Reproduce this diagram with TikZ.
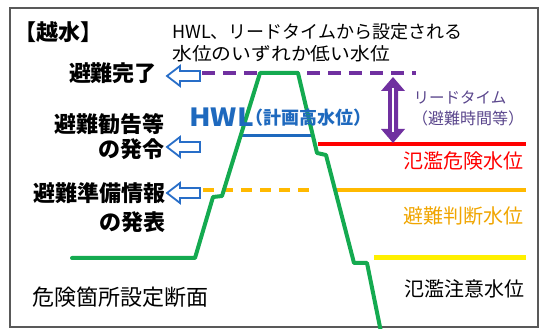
\documentclass[tikz,border=0pt]{standalone}
\usepackage{fontspec}
\setmainfont{Noto Sans CJK JP}
\newcommand{\fsz}[1]{\fontsize{#1}{#1}\selectfont}
\definecolor{dike}{RGB}{20,170,80}
\definecolor{lpurple}{RGB}{112,48,160}
\definecolor{tpurple}{RGB}{90,70,140}
\definecolor{hwlblue}{RGB}{30,105,190}
\definecolor{arrblue}{RGB}{40,110,200}
\definecolor{lorange}{RGB}{255,185,0}
\definecolor{torange}{RGB}{240,165,0}
\definecolor{lyellow}{RGB}{255,240,0}
\definecolor{lred}{RGB}{255,0,0}
\begin{document}
\begin{tikzpicture}[x=1pt,y=-1pt,
  txt/.style={inner sep=0pt,anchor=center},
  lbl/.style={txt,font=\fsz{22}\bfseries},
  lvl/.style={txt,font=\fsz{20}},
  hollowarrow/.style={draw=arrblue,fill=white,line width=1.8pt,line join=miter},
  dikeline/.style={draw=dike,line width=4pt,line join=round,line cap=round}]
\useasboundingbox (0,0) rectangle (542,329);
% frame
\draw[black!65,line width=1.5pt] (10,8) rectangle (538,327);
% level lines
\draw[lpurple,line width=4pt,dash pattern=on 13pt off 8pt] (202,73) -- (416,73);
\draw[hwlblue,line width=3pt] (242,136) -- (313,136);
\draw[lred,line width=4pt] (318,144) -- (526,144);
\draw[lorange,line width=4pt,dash pattern=on 11pt off 8pt] (203,190) -- (313,190);
\draw[lorange,line width=4pt] (337,190) -- (526,190);
\draw[lyellow,line width=5pt] (374,258) -- (526,258);
% dike cross-section
\draw[dikeline] (72,258) -- (195,258) -- (213,197) -- (222,196) -- (260,73) -- (298,73)
  -- (317,153) -- (326,155) -- (354,263) -- (367,263) -- (381,332);
% hollow arrows
\draw[hollowarrow] (167,76) -- ++(13,-10) -- ++(0,5) -- ++(20,0) -- ++(0,10) -- ++(-20,0) -- ++(0,5) -- cycle;
\draw[hollowarrow] (167,147) -- ++(13,-10) -- ++(0,5) -- ++(20,0) -- ++(0,10) -- ++(-20,0) -- ++(0,5) -- cycle;
\draw[hollowarrow] (167,193) -- ++(13,-10) -- ++(0,5) -- ++(20,0) -- ++(0,10) -- ++(-20,0) -- ++(0,5) -- cycle;
% lead-time double arrow
\fill[lpurple] (393,77) -- (381,91) -- (388,91) -- (388,129) -- (381,129) -- (393,143)
  -- (405,129) -- (398,129) -- (398,91) -- (405,91) -- cycle;
\draw[white,line width=2.5pt] (393,88) -- (393,132);
% texts
\node[txt,font=\fsz{22}\bfseries] (title) at (59,32) {【越水】};
\node[txt,anchor=west,font=\fsz{18}] (note1) at (172,32) {HWL、リードタイムから設定される};
\node[txt,anchor=west,font=\fsz{18}] (note2) at (172,54) {\scalebox{1.1}[1]{水位のいずれか低い水位}};
\node[lbl] (kanryo) at (113,73) {避難完了};
\node[lbl,anchor=east] (kankoku) at (165,124) {避難勧告等};
\node[lbl,anchor=east] (hatsurei) at (165,149) {の発令};
\node[lbl,anchor=east] (junbi) at (166,193) {避難準備情報};
\node[lbl,anchor=east] (happyo) at (166,222) {の発表};
\node[txt,font=\fsz{22}] (danmen) at (121,297) {危険箇所設定断面};
\node[txt,anchor=west,text=hwlblue,font=\fsz{25}\bfseries] (hwl) at (189,117) {\scalebox{1.12}[1]{HWL}};
\node[txt,text=hwlblue,font=\fsz{18}\bfseries] (hwlj) at (308,118) {（計画高水位）};
\node[txt,text=tpurple,font=\fsz{15.5}] (lead1) at (460,98) {リードタイム};
\node[txt,text=tpurple,font=\fsz{16}] (lead2) at (468,118) {（避難時間等）};
\node[lvl,text=lred] (kiken) at (463,161) {氾濫危険水位};
\node[lvl,text=torange] (handan) at (463,216) {避難判断水位};
\node[lvl] (chui) at (464,289) {氾濫注意水位};
\end{tikzpicture}
\end{document}
